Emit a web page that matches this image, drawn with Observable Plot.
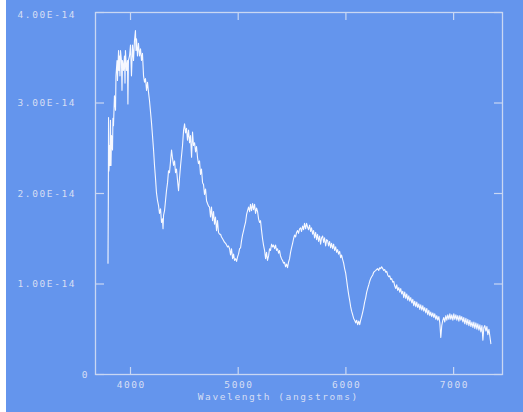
<!DOCTYPE html>
<html>
<head>
<meta charset="utf-8">
<script src="https://cdn.jsdelivr.net/npm/d3@7"></script>
<script src="https://cdn.jsdelivr.net/npm/@observablehq/plot@0.6"></script>
<style>
  html, body { margin: 0; padding: 0; background: #ffffff; }
  #chart { position: absolute; left: 6px; top: 0; width: 517px; height: 412px; background: #6495ED; }
  #chart svg text { letter-spacing: 1.6px; }
</style>
</head>
<body>
<div id="chart"></div>
<script>
// Spectrum: wavelength (angstroms) and flux (in units of 1e-14)
const wavelength = [
  3791,3794,3796,3800,3805,3810,3814,3819,3824,3833,3837,3842,3851,3861,3865,3875,3879,3889,3893,3898,
  3902,3907,3916,3921,3926,3935,3944,3949,3953,3963,3972,3976,3981,3991,4000,4009,4019,4028,4037,4046,
  4051,4056,4065,4074,4084,4093,4102,4111,4121,4130,4139,4149,4158,4167,4176,4186,4195,4204,4214,4223,
  4232,4241,4251,4260,4269,4279,4288,4297,4302,4307,4316,4325,4334,4344,4353,4362,4372,4381,4390,4400,
  4409,4418,4427,4437,4446,4455,4465,4474,4483,4493,4502,4511,4520,4529,4539,4548,4557,4567,4576,4585,
  4595,4604,4613,4622,4631,4641,4650,4659,4669,4678,4687,4697,4706,4715,4725,4734,4743,4752,4762,4771,
  4780,4789,4799,4808,4817,4827,4836,4845,4855,4864,4873,4883,4892,4901,4910,4920,4929,4938,4948,4957,
  4966,4976,4985,4994,5003,5013,5022,5031,5040,5050,5059,5068,5078,5087,5096,5106,5114,5124,5133,5142,
  5152,5161,5170,5180,5189,5198,5207,5217,5226,5235,5245,5254,5263,5272,5282,5291,5300,5310,5319,5328,
  5338,5347,5356,5365,5375,5384,5393,5402,5412,5421,5430,5440,5449,5458,5467,5477,5486,5495,5505,5514,
  5523,5533,5542,5551,5560,5570,5579,5588,5598,5607,5616,5626,5635,5644,5653,5663,5672,5681,5691,5700,
  5709,5719,5728,5737,5746,5756,5765,5774,5784,5793,5802,5812,5821,5830,5839,5849,5858,5867,5877,5886,
  5895,5905,5914,5923,5932,5942,5951,5960,5970,5979,5988,5998,6007,6016,6026,6035,6044,6053,6063,6072,
  6081,6091,6100,6109,6119,6128,6137,6146,6156,6165,6174,6184,6193,6202,6212,6221,6230,6239,6249,6258,
  6267,6277,6286,6295,6305,6314,6323,6332,6342,6351,6360,6370,6379,6388,6398,6407,6416,6425,6435,6444,
  6453,6463,6472,6481,6491,6500,6509,6518,6528,6537,6546,6556,6565,6574,6584,6593,6602,6612,6621,6630,
  6639,6649,6658,6667,6677,6686,6695,6705,6714,6723,6732,6742,6751,6760,6770,6779,6788,6797,6807,6816,
  6825,6835,6844,6853,6863,6872,6881,6890,6900,6909,6918,6928,6937,6946,6956,6965,6974,6983,6993,7002,
  7011,7021,7030,7039,7049,7058,7067,7076,7086,7095,7104,7114,7123,7132,7142,7151,7160,7170,7179,7188,
  7197,7207,7216,7225,7235,7244,7253,7263,7272,7281,7290,7300,7309,7318,7328,7337,7346
];
const fluxE14 = [
  1.23,1.92,2.84,2.25,2.53,2.31,2.81,2.31,2.64,2.48,2.83,2.75,3.08,2.92,3.30,3.47,3.25,3.58,3.36,3.52,
  3.30,3.58,3.47,3.14,3.47,3.36,3.52,3.22,3.58,3.36,3.47,2.99,3.47,3.52,3.64,3.30,3.64,3.47,3.69,3.80,
  3.58,3.71,3.52,3.66,3.52,3.60,3.47,3.55,3.30,3.23,3.27,3.14,3.23,3.12,3.03,2.90,2.78,2.64,2.48,2.31,
  2.17,2.01,1.92,1.87,1.78,1.83,1.68,1.72,1.61,1.76,1.81,1.92,2.03,2.12,2.25,2.23,2.36,2.48,2.39,2.31,
  2.36,2.23,2.27,2.14,2.03,2.17,2.31,2.42,2.53,2.70,2.77,2.67,2.72,2.59,2.70,2.56,2.64,2.40,2.68,2.53,
  2.56,2.46,2.52,2.40,2.33,2.36,2.21,2.27,2.12,2.10,1.99,2.05,1.92,1.89,1.86,1.85,1.74,1.85,1.70,1.80,
  1.66,1.74,1.59,1.70,1.57,1.55,1.55,1.52,1.50,1.48,1.46,1.45,1.43,1.41,1.42,1.39,1.32,1.39,1.28,1.33,
  1.26,1.28,1.25,1.30,1.33,1.39,1.40,1.48,1.54,1.59,1.64,1.68,1.77,1.81,1.85,1.80,1.88,1.81,1.89,1.82,
  1.88,1.78,1.84,1.80,1.72,1.68,1.70,1.59,1.50,1.43,1.37,1.28,1.35,1.26,1.31,1.39,1.37,1.44,1.41,1.43,
  1.39,1.43,1.37,1.39,1.34,1.37,1.31,1.28,1.26,1.23,1.24,1.19,1.22,1.18,1.24,1.28,1.35,1.40,1.45,1.50,
  1.54,1.52,1.57,1.59,1.56,1.61,1.62,1.58,1.64,1.60,1.67,1.61,1.67,1.63,1.60,1.65,1.58,1.62,1.55,1.59,
  1.51,1.57,1.49,1.55,1.47,1.53,1.44,1.51,1.53,1.46,1.51,1.42,1.49,1.48,1.42,1.47,1.40,1.45,1.39,1.44,
  1.37,1.41,1.35,1.38,1.33,1.36,1.29,1.32,1.27,1.23,1.17,1.12,1.04,0.96,0.88,0.82,0.75,0.70,0.66,0.62,
  0.60,0.57,0.60,0.55,0.59,0.55,0.60,0.64,0.69,0.74,0.80,0.85,0.91,0.95,0.99,1.03,1.06,1.08,1.10,1.13,
  1.14,1.15,1.16,1.17,1.15,1.18,1.17,1.19,1.17,1.15,1.16,1.13,1.14,1.10,1.08,1.09,1.05,1.06,1.02,1.03,
  0.98,0.95,0.99,0.93,0.96,0.91,0.95,0.89,0.92,0.85,0.91,0.84,0.89,0.82,0.87,0.81,0.85,0.79,0.83,0.76,
  0.81,0.75,0.80,0.74,0.78,0.72,0.77,0.71,0.76,0.70,0.74,0.68,0.73,0.66,0.71,0.65,0.69,0.64,0.68,0.63,
  0.67,0.61,0.65,0.60,0.64,0.57,0.41,0.54,0.60,0.63,0.58,0.65,0.60,0.66,0.61,0.67,0.61,0.66,0.60,0.67,
  0.61,0.66,0.60,0.65,0.59,0.65,0.60,0.64,0.58,0.63,0.56,0.62,0.55,0.61,0.54,0.60,0.53,0.58,0.52,0.58,
  0.51,0.57,0.50,0.56,0.49,0.55,0.47,0.54,0.38,0.52,0.54,0.48,0.53,0.44,0.50,0.42,0.34
];
const fluxUnit = 1e-14;
const xTicks = [4000, 5000, 6000, 7000];
const yTicks = [0, 1, 2, 3, 4];
const yTickLabels = ["0", "1.00E-14", "2.00E-14", "3.00E-14", "4.00E-14"];
const xAxisLabel = "Wavelength (angstroms)";

const bg = "#6495ED";
const frameColor = "#c9d7f3";
const textColor = "#d6def4";
const lineColor = "#f6f8ff";

const points = d3.range(Math.min(wavelength.length, fluxE14.length)).map(i => ({w: wavelength[i], f: fluxE14[i]}));
const empty = () => "";
const yLabel = d => yTickLabels[yTicks.indexOf(d)];

const chart = Plot.plot({
  width: 517,
  height: 412,
  marginLeft: 89,
  marginRight: 21,
  marginTop: 12,
  marginBottom: 38,
  style: {background: bg, fontFamily: "'DejaVu Sans Mono', monospace", fontSize: "9.5px", color: textColor},
  x: {domain: [3675, 7454]},
  y: {domain: [0, 4]},
  marks: [
    Plot.frame({stroke: frameColor, strokeWidth: 1.3}),
    // inward ticks on all four sides
    Plot.axisX(xTicks, {anchor: "top", frameAnchor: "bottom", tickSize: 8, tickFormat: empty, label: null, stroke: frameColor, strokeWidth: 1.2}),
    Plot.axisX(xTicks, {anchor: "bottom", frameAnchor: "top", tickSize: 8, tickFormat: empty, label: null, stroke: frameColor, strokeWidth: 1.2}),
    Plot.axisY(yTicks, {anchor: "right", frameAnchor: "left", tickSize: 8, tickFormat: empty, label: null, stroke: frameColor, strokeWidth: 1.2}),
    Plot.axisY(yTicks, {anchor: "left", frameAnchor: "right", tickSize: 8, tickFormat: empty, label: null, stroke: frameColor, strokeWidth: 1.2}),
    // tick labels
    Plot.axisX(xTicks, {anchor: "bottom", tickSize: 0, tickPadding: 7, dx: 0.8, label: null, tickFormat: d => String(d), fill: textColor}),
    Plot.axisY(yTicks.filter(d => d > 0 && d < 4), {anchor: "left", tickSize: 0, tickPadding: 19.4, label: null, tickFormat: yLabel, fill: textColor}),
    Plot.axisY(yTicks.filter(d => d === 4), {anchor: "left", tickSize: 0, tickPadding: 19.4, dy: 2, label: null, tickFormat: yLabel, fill: textColor}),
    Plot.axisY(yTicks.filter(d => d === 0), {anchor: "left", tickSize: 0, tickPadding: 6.4, label: null, tickFormat: yLabel, fill: textColor}),
    Plot.text([xAxisLabel], {frameAnchor: "bottom", dx: -20.7, dy: 25.5, text: d => d, fill: textColor}),
    // spectrum
    Plot.line(points, {x: "w", y: "f", stroke: lineColor, strokeWidth: 1.1})
  ]
});
document.getElementById("chart").append(chart);
</script>
</body>
</html>
